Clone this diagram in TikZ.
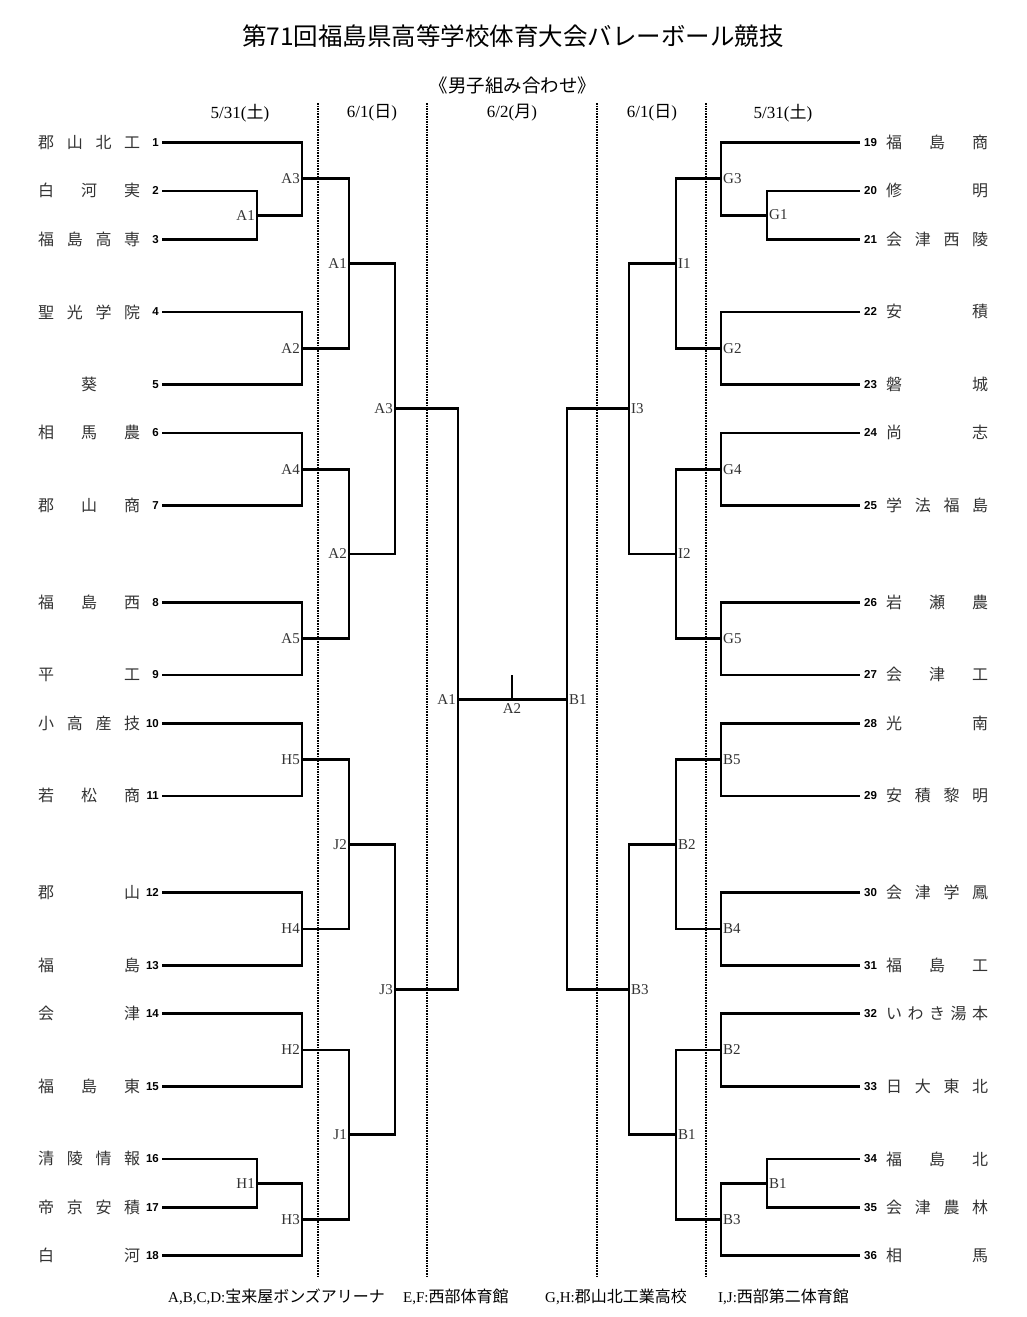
\documentclass[tikz,border=0pt]{standalone}
\usepackage{fontspec}
\setmainfont{Liberation Serif}
\setsansfont{Liberation Sans}
\newfontfamily\jp{Noto Sans CJK JP}

\newcommand\spreadname[1]{\makebox[102pt]{#1}}

\tikzset{
    bracket/.style={line width=2.8pt},
    dayline/.style={line width=1.7pt, dash pattern=on 1.5pt off 1.1pt},
    school/.style={anchor=west, inner sep=0pt, text=black!80, font=\jp\fontsize{16}{16}\selectfont},
    seed/.style={inner sep=0pt, font=\sffamily\bfseries\fontsize{11.5}{11.5}\selectfont},
    lbl/.style={inner sep=2pt, text=black!80, font=\fontsize{15}{15}\selectfont},
    dayhead/.style={inner sep=0pt, font=\fontsize{17}{17}\selectfont},
    venue/.style={anchor=west, inner sep=0pt, font=\fontsize{15}{15}\selectfont}
}

\begin{document}
\begin{tikzpicture}[x=1pt, y=-1pt]

    \fill[white] (0,0) rectangle (1026,1317);
    \useasboundingbox (0,0) rectangle (1026,1317);

    % Title
    \node[font=\jp\fontsize{24.5}{24.5}\selectfont] (title) at (513,36) {第71回福島県高等学校体育大会バレーボール競技};
    \node[font=\jp\fontsize{18.5}{18.5}\selectfont] (subtitle) at (513,85) {《男子組み合わせ》};

    % Days
    \node[dayhead] (d1) at (240,113) {5/31({\jp 土})};
    \node[dayhead] (d2) at (372,113) {6/1({\jp 日})};
    \node[dayhead] (d3) at (512,113) {6/2({\jp 月})};
    \node[dayhead] (d4) at (652,113) {6/1({\jp 日})};
    \node[dayhead] (d5) at (783,113) {5/31({\jp 土})};
    \foreach \x in {318, 427, 597, 706}{
        \draw[dayline] (\x,103) -- (\x,1277);
    }

    \begin{scope}[y=-24.2pt, yshift=-142.5pt]

        % Left schools
        \foreach \i/\k/\nm in {1/0/{郡\hfill 山\hfill 北\hfill 工}, 2/2/{白\hfill 河\hfill 実},
            3/4/{福\hfill 島\hfill 高\hfill 専}, 4/7/{聖\hfill 光\hfill 学\hfill 院}, 5/10/{\hfill 葵\hfill},
            6/12/{相\hfill 馬\hfill 農}, 7/15/{郡\hfill 山\hfill 商}, 8/19/{福\hfill 島\hfill 西},
            9/22/{平\hfill 工}, 10/24/{小\hfill 高\hfill 産\hfill 技}, 11/27/{若\hfill 松\hfill 商},
            12/31/{郡\hfill 山}, 13/34/{福\hfill 島}, 14/36/{会\hfill 津}, 15/39/{福\hfill 島\hfill 東},
            16/42/{清\hfill 陵\hfill 情\hfill 報}, 17/44/{帝\hfill 京\hfill 安\hfill 積}, 18/46/{白\hfill 河}}{
            \node[school] (s\i) at (38,\k) {\spreadname{\nm}};
            \node[seed, anchor=east] (n\i) at (159,\k) {\i};
            \coordinate (p\i) at (162,\k);
        }

        % Right schools
        \foreach \i/\k/\nm in {19/0/{福\hfill 島\hfill 商}, 20/2/{修\hfill 明},
            21/4/{会\hfill 津\hfill 西\hfill 陵}, 22/7/{安\hfill 積}, 23/10/{磐\hfill 城},
            24/12/{尚\hfill 志}, 25/15/{学\hfill 法\hfill 福\hfill 島}, 26/19/{岩\hfill 瀬\hfill 農},
            27/22/{会\hfill 津\hfill 工}, 28/24/{光\hfill 南}, 29/27/{安\hfill 積\hfill 黎\hfill 明},
            30/31/{会\hfill 津\hfill 学\hfill 鳳}, 31/34/{福\hfill 島\hfill 工},
            32/36/{い\hfill わ\hfill き\hfill 湯\hfill 本}, 33/39/{日\hfill 大\hfill 東\hfill 北},
            34/42/{福\hfill 島\hfill 北}, 35/44/{会\hfill 津\hfill 農\hfill 林}, 36/46/{相\hfill 馬}}{
            \node[school] (s\i) at (886,\k) {\spreadname{\nm}};
            \node[seed, anchor=west] (n\i) at (864,\k) {\i};
            \coordinate (p\i) at (860,\k);
        }

        % Left matches
        \foreach \m/\x/\k/\t in {mA1/257/3/A1, mA3/302/1.5/A3, mA2/302/8.5/A2, mA4/302/13.5/A4,
            mA5/302/20.5/A5, mA1b/349/5/A1, mA2b/349/17/A2, mA3b/395/11/A3,
            mH5/302/25.5/H5, mH4/302/32.5/H4, mH2/302/37.5/H2, mH1/257/43/H1,
            mH3/302/44.5/H3, mJ2/349/29/J2, mJ1/349/41/J1, mJ3/395/35/J3, mA1c/458/23/A1}{
            \coordinate (\m) at (\x,\k);
            \node[lbl, anchor=east] (l\m) at (\m) {\t};
        }

        % Right matches
        \foreach \m/\x/\k/\t in {mG1/767/3/G1, mG3/721/1.5/G3, mG2/721/8.5/G2, mG4/721/13.5/G4,
            mG5/721/20.5/G5, mI1/676/5/I1, mI2/676/17/I2, mI3/629/11/I3,
            mB5/721/25.5/B5, mB4/721/32.5/B4, mB2/721/37.5/B2, mB1/767/43/B1,
            mB3/721/44.5/B3, mB2b/676/29/B2, mB1b/676/41/B1, mB3b/629/35/B3, mB1c/567/23/B1}{
            \coordinate (\m) at (\x,\k);
            \node[lbl, anchor=west] (l\m) at (\m) {\t};
        }

        % Brackets
        \foreach \a/\m/\b in {p2/mA1/p3, p1/mA3/mA1, p4/mA2/p5, p6/mA4/p7, p8/mA5/p9,
            mA3/mA1b/mA2, mA4/mA2b/mA5, mA1b/mA3b/mA2b,
            p10/mH5/p11, p12/mH4/p13, p14/mH2/p15, p16/mH1/p17, mH1/mH3/p18,
            mH5/mJ2/mH4, mH2/mJ1/mH3, mJ2/mJ3/mJ1, mA3b/mA1c/mJ3,
            p20/mG1/p21, p19/mG3/mG1, p22/mG2/p23, p24/mG4/p25, p26/mG5/p27,
            mG3/mI1/mG2, mG4/mI2/mG5, mI1/mI3/mI2,
            p28/mB5/p29, p30/mB4/p31, p32/mB2/p33, p34/mB1/p35, mB1/mB3/p36,
            mB5/mB2b/mB4, mB2/mB1b/mB3, mB2b/mB3b/mB1b, mI3/mB1c/mB3b}{
            \draw[bracket] (\a) -| (\m) |- (\b);
        }

        % Final
        \coordinate (fin) at (512,23);
        \coordinate (fintop) at (512,22);
        \draw[bracket] (mA1c) -- (mB1c);
        \draw[bracket] (fin) -- (fintop);
        \node[lbl, anchor=north, yshift=-2pt] (lfin) at (fin) {A2};

    \end{scope}

    % Venues
    \node[venue] (v1) at (168,1297) {A,B,C,D:{\jp\fontsize{16}{16}\selectfont 宝来屋ボンズアリーナ}};
    \node[venue] (v2) at (403,1297) {E,F:{\jp\fontsize{16}{16}\selectfont 西部体育館}};
    \node[venue] (v3) at (545,1297) {G,H:{\jp\fontsize{16}{16}\selectfont 郡山北工業高校}};
    \node[venue] (v4) at (718,1297) {I,J:{\jp\fontsize{16}{16}\selectfont 西部第二体育館}};

\end{tikzpicture}
\end{document}
